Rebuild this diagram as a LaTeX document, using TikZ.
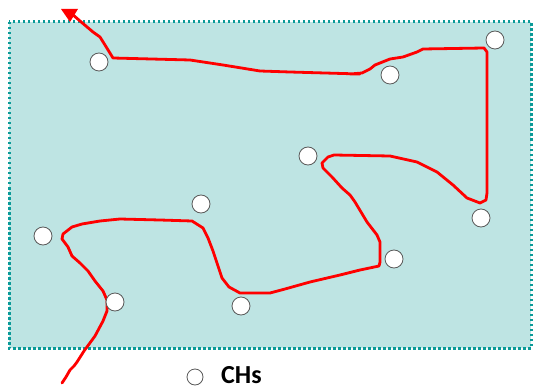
\documentclass[tikz,border=0pt]{standalone}
\usepackage{fontspec}
\setmainfont{Carlito}
\definecolor{areafill}{HTML}{BEE4E3}
\definecolor{areaborder}{HTML}{0A9A98}
\definecolor{pathred}{HTML}{FF0000}
\begin{document}
\begin{tikzpicture}[x=1pt,y=-1pt,
  ch/.style={circle,draw=black!65,fill=white,line width=0.8pt,minimum size=18pt,inner sep=0pt},
  route/.style={draw=pathred,line width=2.8pt,line join=round,line cap=round}]
\useasboundingbox (0,0) rectangle (534,387);
\draw[areaborder,fill=areafill,line width=3pt,dash pattern=on 2.5pt off 2.5pt] (9,22) rectangle (531,348);
% route
\draw[route] (62,383) -- (66,377) -- (70,370) -- (74,366) -- (77,362) -- (84,351) -- (95,336) -- (103,321) -- (107,311) -- (107,300) -- (103,291) -- (95,281) -- (88,271) -- (80,263) -- (72,256) -- (68,247) -- (62,239) -- (63,234) -- (72,227) -- (82,224) -- (100,221) -- (120,219) -- (160,220) -- (192,221) -- (203,228) -- (208,238) -- (213,251) -- (218,266) -- (222,278) -- (229,287) -- (240,293) -- (270,293) -- (285,289) -- (310,282) -- (340,275) -- (360,270) -- (379,266) -- (380,262) -- (380,242) -- (377,235) -- (367,222) -- (355,202) -- (350,195) -- (342,188) -- (332,177) -- (323,168) -- (322,163) -- (328,157) -- (334,155) -- (390,156) -- (417,162) -- (437,172) -- (453,185) -- (467,198) -- (480,203) -- (486,200) -- (487,193) -- (487,52) -- (484,48) -- (423,49) -- (417,52) -- (403,57) -- (390,59) -- (375,65) -- (370,69) -- (362,73) -- (350,74) -- (360,74) -- (290,72) -- (260,71) -- (223,65) -- (190,60) -- (113,58) -- (105,45) -- (100,37) -- (93,32) -- (80,21) -- (72,14);
\fill[pathred] (61,9) -- (78,9) -- (70,22) -- cycle;
% CHs
\node[ch] (c1) at (99,62) {};
\node[ch] (c2) at (390,75) {};
\node[ch] (c3) at (495,40) {};
\node[ch] (c4) at (308,156) {};
\node[ch] (c5) at (481,218) {};
\node[ch] (c6) at (201,204) {};
\node[ch] (c7) at (43,236) {};
\node[ch] (c8) at (394,259) {};
\node[ch] (c9) at (115,302) {};
\node[ch] (c10) at (241,306) {};
% legend
\node[circle,draw=black!65,fill=white,line width=0.8pt,minimum size=16pt,inner sep=0pt] (leg) at (195,377) {};
\node[anchor=base west,inner sep=0pt,font=\bfseries\fontsize{26}{28}\selectfont] (legtext) at (221,383) {CHs};
\end{tikzpicture}
\end{document}
